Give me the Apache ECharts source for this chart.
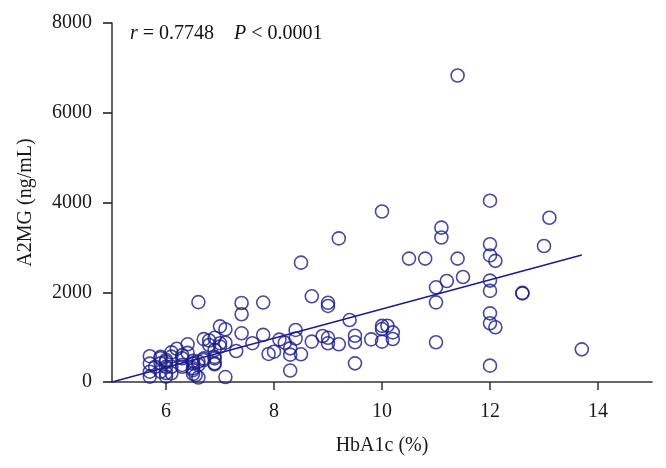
<!DOCTYPE html>
<html>
<head>
<meta charset="utf-8">
<script src="https://cdn.jsdelivr.net/npm/echarts@6/dist/echarts.min.js"></script>
<style>
  html, body { margin: 0; padding: 0; background: #fff; }
  #main { width: 666px; height: 468px; }
</style>
</head>
<body>
<div id="main"></div>
<script>
// HbA1c (%) vs A2MG (ng/mL)
const hba1c = [
  11.4, 12.0, 10.0, 13.1, 11.1, 11.1, 9.2, 12.0, 13.0, 12.0,
  10.5, 10.8, 11.4, 12.1, 8.5, 11.5, 11.2, 12.0, 11.0, 12.0,
  12.6, 12.6, 8.7, 11.0, 9.0, 9.0, 6.6, 7.4, 7.8, 7.4,
  12.0, 9.4, 12.0, 12.1, 10.0, 10.1, 10.0, 10.2, 7.0, 7.1,
  8.4, 7.4, 7.8, 9.5, 8.9, 9.0, 8.4, 10.2, 9.8, 8.1,
  8.2, 10.0, 8.7, 9.5, 11.0, 9.0, 9.2, 7.6, 6.7, 6.8,
  6.9, 6.4, 7.1, 7.0, 8.3, 13.7, 7.3, 8.0, 7.9, 8.3,
  8.5, 9.5, 12.0, 8.3, 7.1,
  6.2, 6.1, 6.3, 6.4, 6.9, 5.7, 5.7, 5.7, 5.7, 5.9,
  5.9, 5.9, 5.8, 6.0, 6.0, 6.0, 6.0, 6.0, 6.1, 6.1,
  6.1, 6.3, 6.3, 6.3, 6.5, 6.5, 6.5, 6.5, 6.5, 6.55,
  6.6, 6.6, 6.6, 6.7, 6.7, 6.9, 6.9, 6.9, 6.9, 6.8,
  7.0, 5.9
];
const a2mg = [
  6830, 4040, 3800, 3660, 3440, 3220, 3200, 3070, 3030, 2820,
  2750, 2750, 2750, 2700, 2660, 2340, 2250, 2260, 2110, 2030,
  1985, 1975, 1910, 1775, 1765, 1695, 1780, 1760, 1770, 1510,
  1530, 1380, 1310, 1220, 1250, 1255, 1180, 1105, 1240, 1175,
  1160, 1085, 1050, 1030, 1025, 985, 970, 958, 950, 945,
  876, 900, 900, 885, 885, 862, 840, 865, 955, 925,
  985, 840, 876, 790, 750, 728, 690, 675, 625, 610,
  617, 416, 364, 255, 110,
  740, 660, 600, 650, 713, 575, 410, 230, 120, 530,
  560, 416, 340, 490, 450, 340, 200, 120, 565, 340,
  195, 530, 380, 340, 470, 415, 305, 265, 180, 155,
  455, 380, 100, 527, 490, 560, 527, 416, 394, 825,
  862, 230
];

// regression line end points
const fitX = [5.0, 13.7];
const fitY = [0, 2830];

const xTicks = [6, 8, 10, 12, 14];
const yTicks = [0, 2000, 4000, 6000, 8000];

const navy = '#1c1c8a';
const serif = '"Liberation Serif", "Times New Roman", serif';

const chartDom = document.getElementById('main');
const myChart = echarts.init(chartDom);

const points = hba1c.map((x, i) => [x, a2mg[i]]);
const fit = fitX.map((x, i) => [x, fitY[i]]);

const option = {
  animation: false,
  backgroundColor: '#fff',
  grid: {
    left: 112,
    right: 14,
    top: 23,
    bottom: 86,
    containLabel: false
  },
  xAxis: {
    type: 'value',
    min: 5,
    max: 15,
    name: 'HbA1c (%)',
    nameLocation: 'middle',
    nameGap: 54,
    nameTextStyle: { fontFamily: serif, fontSize: 20, color: '#1a1a1a' },
    axisLine: { lineStyle: { color: '#333', width: 1.5 } },
    axisTick: {
      show: true,
      length: 8,
      customValues: xTicks,
      lineStyle: { color: '#333', width: 1.5 }
    },
    axisLabel: {
      customValues: xTicks,
      margin: 20,
      fontFamily: serif,
      fontSize: 20,
      color: '#1a1a1a'
    },
    splitLine: { show: false }
  },
  yAxis: {
    type: 'value',
    min: 0,
    max: 8000,
    interval: 2000,
    name: 'A2MG (ng/mL)',
    nameLocation: 'middle',
    nameGap: 76,
    nameTextStyle: { fontFamily: serif, fontSize: 20, color: '#1a1a1a' },
    axisLine: { show: true, lineStyle: { color: '#333', width: 1.5 } },
    axisTick: {
      show: true,
      inside: false,
      length: 9,
      customValues: yTicks,
      lineStyle: { color: '#222', width: 1.6 }
    },
    axisLabel: {
      margin: 20,
      fontFamily: serif,
      fontSize: 20,
      color: '#1a1a1a',
      formatter: (v) => String(v)
    },
    splitLine: { show: false }
  },
  graphic: [
    {
      type: 'text',
      left: 130,
      top: 24,
      style: {
        text: '{i|r} = 0.7748    {i|P} < 0.0001',
        font: '20px ' + serif,
        fill: '#111',
        rich: {
          i: { fontStyle: 'italic', fontFamily: serif, fontSize: 20, fill: '#111' }
        }
      }
    }
  ],
  series: [
    {
      type: 'scatter',
      data: points,
      symbol: 'circle',
      symbolSize: 13,
      itemStyle: {
        color: 'rgba(0,0,0,0)',
        borderColor: navy,
        borderWidth: 1.6
      }
    },
    {
      type: 'line',
      data: fit,
      symbol: 'none',
      lineStyle: { color: navy, width: 1.5 }
    }
  ]
};

option && myChart.setOption(option);
window.addEventListener('resize', () => {
  myChart.resize()
});
</script>
</body>
</html>
